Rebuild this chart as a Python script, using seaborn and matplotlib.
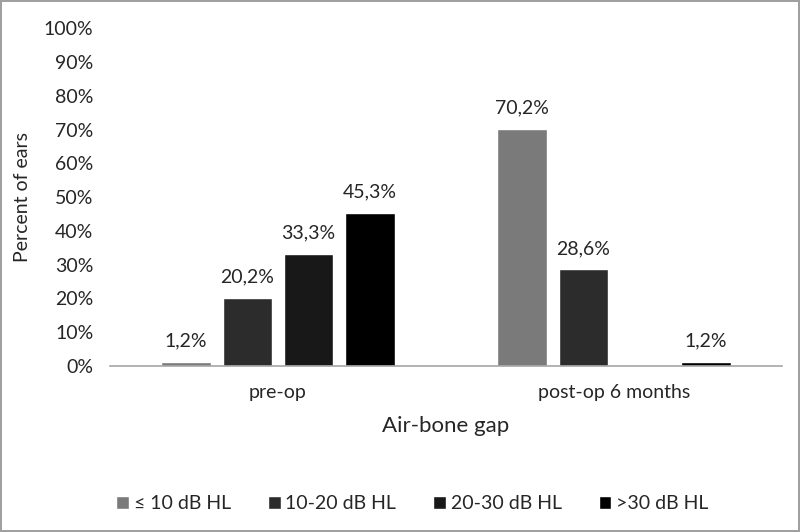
import numpy as np
import pandas as pd
import matplotlib
matplotlib.use("Agg")
import matplotlib.pyplot as plt
import seaborn as sns

groups = ["pre-op", "post-op 6 months"]
levels = ["≤ 10 dB HL", "10-20 dB HL", "20-30 dB HL", ">30 dB HL"]
pre_op = [1.2, 20.2, 33.3, 45.3]
post_op = [70.2, 28.6, np.nan, 1.2]
colors = ["#7a7a7a", "#2c2c2c", "#181818", "#000000"]

df = pd.DataFrame({
    "group": [groups[0]] * 4 + [groups[1]] * 4,
    "level": levels * 2,
    "pct": pre_op + post_op,
})

sns.set_style("white")
plt.rcParams["font.family"] = ["Lato", "DejaVu Sans"]

fig = plt.figure(figsize=(8, 5.32), dpi=100)
fig.patch.set_edgecolor("#a0a0a0")
fig.patch.set_linewidth(1.5)
ax = fig.add_axes([0.1375, 0.312, 0.84, 0.635])

sns.barplot(data=df, x="group", y="pct", hue="level", order=groups, hue_order=levels,
            palette=colors, width=0.73, gap=0.2, ax=ax, legend=True)

for cont in ax.containers:
    labels = ["" if np.isnan(v) else f"{v:.1f}%".replace(".", ",") for v in cont.datavalues]
    ax.bar_label(cont, labels=labels, padding=9, fontsize=14)

ax.set_ylim(0, 100)
ax.set_yticks(range(0, 101, 10))
ax.set_yticklabels([f"{t}%" for t in range(0, 101, 10)], fontsize=14)
ax.tick_params(axis="x", labelsize=14, pad=13, length=0)
ax.tick_params(axis="y", length=0, pad=12)
ax.set_ylabel("Percent of ears", fontsize=14, labelpad=9)
ax.set_xlabel("Air-bone gap", fontsize=16, labelpad=11)
sns.despine(ax=ax, left=True)
ax.spines["bottom"].set_color("#a6a6a6")
ax.spines["bottom"].set_linewidth(1.2)

ax.legend(loc="upper center", bbox_to_anchor=(0.45, -0.33), ncol=4, frameon=False,
          fontsize=14, handlelength=0.65, handleheight=0.65, handletextpad=0.25,
          columnspacing=1.9)

fig.savefig("out.png", dpi=100)
